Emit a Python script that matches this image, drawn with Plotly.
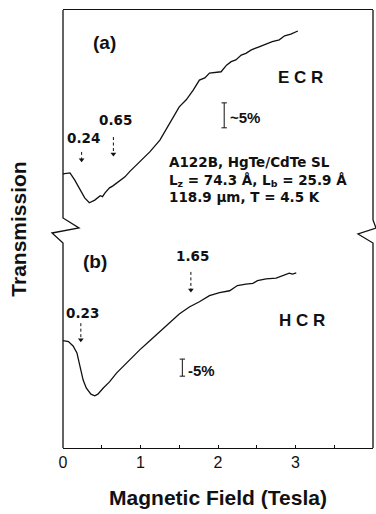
import plotly.graph_objects as go

# Panel (a): electron cyclotron resonance (ECR) trace
ecr_field = [0.00, 0.09, 0.15, 0.22, 0.28, 0.34, 0.37, 0.41, 0.48, 0.51, 0.54, 0.60, 0.64,
             0.69, 0.75, 0.80, 0.86, 0.98, 1.12, 1.25, 1.38, 1.50, 1.59, 1.68, 1.76,
             1.83, 1.89, 1.98, 2.04, 2.11, 2.17, 2.23, 2.30, 2.36, 2.43, 2.53, 2.62,
             2.70, 2.79, 2.86, 2.94, 3.03]
ecr_trans = [62.6, 62.8, 61.2, 58.9, 57.1, 56.0, 56.2, 56.6, 57.6, 57.4, 58.2, 59.4, 59.8,
             60.5, 61.2, 61.9, 63.1, 65.1, 67.6, 70.3, 74.2, 77.9, 79.5, 81.7, 84.0,
             84.5, 85.6, 85.7, 85.9, 87.4, 88.2, 88.6, 89.7, 90.1, 90.9, 91.6, 92.2,
             92.8, 93.2, 94.1, 94.5, 95.2]

# Panel (b): hole cyclotron resonance (HCR) trace
hcr_field = [0.00, 0.07, 0.13, 0.18, 0.22, 0.26, 0.30, 0.36, 0.41, 0.45, 0.52, 0.60, 0.69,
             0.78, 0.86, 0.99, 1.12, 1.25, 1.38, 1.50, 1.63, 1.76, 1.89, 2.02, 2.15,
             2.25, 2.36, 2.45, 2.51, 2.62, 2.75, 2.83, 2.92, 2.96, 3.01]
hcr_trans = [24.5, 24.3, 23.3, 21.7, 18.6, 15.5, 13.7, 12.3, 11.9, 12.3, 13.7, 15.1, 17.1,
             18.7, 20.3, 22.4, 24.5, 26.6, 28.5, 30.6, 32.2, 33.4, 34.8, 35.5, 35.9,
             37.1, 37.4, 37.6, 38.2, 38.6, 38.8, 39.3, 39.9, 39.7, 40.0]

# Marked resonance fields (T): dashed arrow shaft top, arrow tip, label height
ecr_marks = [0.24, 0.65]
ecr_mark_top = [67.6, 71.0]
ecr_mark_tip = [65.1, 66.4]
ecr_mark_label_y = [70.8, 74.9]

hcr_marks = [0.23, 1.65]
hcr_mark_top = [28.5, 40.2]
hcr_mark_tip = [24.0, 35.4]
hcr_mark_label_y = [30.8, 43.8]

# ~5% transmission scale bars: field position, lower end, upper end, label
scale_x = [2.08, 1.54]
scale_lo = [73.1, 16.4]
scale_hi = [78.8, 20.3]
scale_text = ["~5%", "-5%"]

x_ticks = [0, 1, 2, 3, 4]
x_tick_text = ["0", "1", "2", "3", "4"]

FONT = "Liberation Sans, Arial, Helvetica, sans-serif"
WIDE = "DejaVu Sans, Liberation Sans, sans-serif"
INK = "#111111"

fig = go.Figure()

fig.add_trace(go.Scatter(x=ecr_field, y=ecr_trans, mode="lines",
                         line=dict(color=INK, width=1.3), hoverinfo="skip"))
fig.add_trace(go.Scatter(x=hcr_field, y=hcr_trans, mode="lines",
                         line=dict(color=INK, width=1.3), hoverinfo="skip"))

annotations = []

# dashed downward arrows with field labels
for marks, tops, tips, label_ys in [(ecr_marks, ecr_mark_top, ecr_mark_tip, ecr_mark_label_y),
                                    (hcr_marks, hcr_mark_top, hcr_mark_tip, hcr_mark_label_y)]:
    for b, top, tip, ly in zip(marks, tops, tips, label_ys):
        fig.add_trace(go.Scatter(x=[b, b], y=[top, tip + 0.8], mode="lines",
                                 line=dict(color=INK, width=1, dash="3px,2.5px"),
                                 hoverinfo="skip"))
        fig.add_trace(go.Scatter(x=[b], y=[tip + 0.7], mode="markers",
                                 marker=dict(symbol="triangle-down", size=5, color=INK,
                                             line=dict(width=0)),
                                 hoverinfo="skip"))
        annotations.append(dict(x=b, y=ly, xref="x", yref="y", showarrow=False,
                                text=f"{b:.2f}", xanchor="center", yanchor="middle",
                                xshift=2,
                                font=dict(family=WIDE, size=13.5, color=INK,
                                          weight="bold")))

# scale bars
cap = 0.035
for sx, lo, hi, st in zip(scale_x, scale_lo, scale_hi, scale_text):
    fig.add_trace(go.Scatter(
        x=[sx - cap, sx + cap, None, sx, sx, None, sx - cap, sx + cap],
        y=[hi, hi, None, hi, lo, None, lo, lo],
        mode="lines", line=dict(color=INK, width=1), hoverinfo="skip"))
    annotations.append(dict(x=sx + 0.05, y=(lo + hi) / 2 - 0.6, xref="x", yref="y",
                            showarrow=False, text=st, xanchor="left", yanchor="middle",
                            font=dict(family=FONT, size=15, color=INK, weight="bold")))

def label(x, y, text, size, xanchor="center", family=FONT):
    annotations.append(dict(x=x, y=y, xref="x", yref="y", showarrow=False, text=text,
                            xanchor=xanchor, yanchor="middle", align="left",
                            font=dict(family=family, size=size, color=INK, weight="bold")))

label(0.54, 92.5, "(a)", 19)
label(3.06, 84.5, "E C R", 17)
label(0.41, 42.5, "(b)", 19)
label(3.08, 29.2, "H C R", 17)

# sample description
label(1.34, 61.4,
      "A122B, HgTe/CdTe SL<br>"
      "L<sub>z</sub> = 74.3 Å, L<sub>b</sub> = 25.9 Å<br>"
      "118.9 μm, T = 4.5 K",
      13.5, xanchor="left", family=WIDE)

# left and right frame edges with axis-break zigzags (pixel geometry of the frame)
L, R, T, B = 63, 373, 10, 448
W, H = R - L, B - T

def px(x, y):
    return (x - L) / W, (B - y) / H

def path(points):
    pts = [px(*p) for p in points]
    return "M " + " L ".join(f"{a:.5f},{b:.5f}" for a, b in pts)

shapes = [
    dict(type="path", xref="paper", yref="paper",
         path=path([(63, 10), (63, 218), (79, 228), (52, 233), (63, 243), (63, 448)]),
         line=dict(color=INK, width=1.3)),
    dict(type="path", xref="paper", yref="paper",
         path=path([(373, 10), (373, 220), (376, 228), (358, 234), (373, 243), (373, 448)]),
         line=dict(color=INK, width=1.3)),
]

fig.update_layout(
    width=376, height=514,
    margin=dict(l=L, r=376 - R, t=T, b=514 - B),
    paper_bgcolor="white", plot_bgcolor="white",
    showlegend=False,
    annotations=annotations,
    shapes=shapes,
    xaxis=dict(range=[0, 4], tickvals=x_ticks, ticktext=x_tick_text,
               ticks="inside", ticklen=3, tickwidth=1, tickcolor=INK,
               minor=dict(dtick=0.5, ticks="inside", ticklen=3, tickwidth=1,
                          tickcolor=INK, showgrid=False),
               showline=True, linecolor=INK, linewidth=1.3, mirror=True,
               showgrid=False, zeroline=False, automargin=False,
               tickfont=dict(family=FONT, size=16, color=INK),
               title=dict(text="Magnetic Field (Tesla)", standoff=19,
                          font=dict(family=FONT, size=21, color=INK, weight="bold"))),
    yaxis=dict(range=[0, 100], showticklabels=False, ticks="", showline=False,
               showgrid=False, zeroline=False, automargin=False,
               title=dict(text="Transmission", standoff=29,
                          font=dict(family=FONT, size=21, color=INK, weight="bold"))),
)

fig.write_html("out.html")
